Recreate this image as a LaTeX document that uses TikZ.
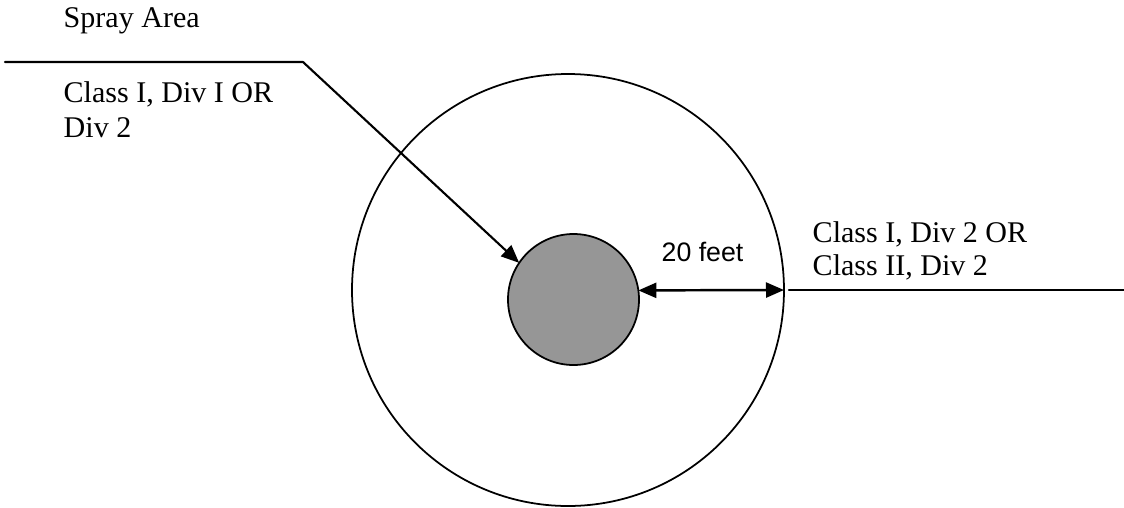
\documentclass[tikz,border=0pt]{standalone}
\usepackage{fontspec}
\setmainfont{Liberation Serif}
\newfontfamily\dimsans{Liberation Sans}
\usetikzlibrary{arrows.meta}
\definecolor{sprayfill}{RGB}{150,150,150}

\begin{document}
\begin{tikzpicture}[x=0.1mm,y=-0.1mm,line cap=round,line join=round,
  zone/.style={circle,draw,line width=0.5pt,inner sep=0pt,outer sep=0pt},
  tag/.style={anchor=base west,inner sep=0pt,font=\fontsize{8.55}{9.9}\selectfont},
  tip/.style={-{Triangle[length=1.8mm,width=1.5mm]}}]
  \useasboundingbox (0,0) rectangle (1124,507);
  \node[zone,minimum size=43.2mm] (outer) at (568,290) {};
  \node[zone,minimum size=13.1mm,fill=sprayfill] (spray) at (573.5,299.5) {};
  \coordinate (lstart) at (5,62);
  \coordinate (lbend) at (303,62);
  \coordinate (rend) at (1124,290);
  \draw[line width=0.6pt,tip] (lstart) -- (lbend) -- (spray.146);
  \draw[line width=0.7pt,{Triangle[length=1.8mm,width=1.5mm]}-{Triangle[length=1.8mm,width=1.5mm]}]
    (spray.8) -- (outer.east);
  \draw[line width=0.6pt] ([xshift=0.5mm]outer.east) -- (rend);
  \node[anchor=base west,inner sep=0pt,font=\dimsans\fontsize{7.6}{9}\selectfont] (dist) at (661,261) {20 feet};
  \node[tag] (spraylbl) at (63,27) {Spray Area};
  \node[tag] (innerA) at (63,102) {Class I, Div I OR};
  \node[tag] (innerB) at (63,137) {Div 2};
  \node[tag] (outerA) at (812,242) {Class I, Div 2 OR};
  \node[tag] (outerB) at (812,275) {Class II, Div 2};
\end{tikzpicture}
\end{document}
